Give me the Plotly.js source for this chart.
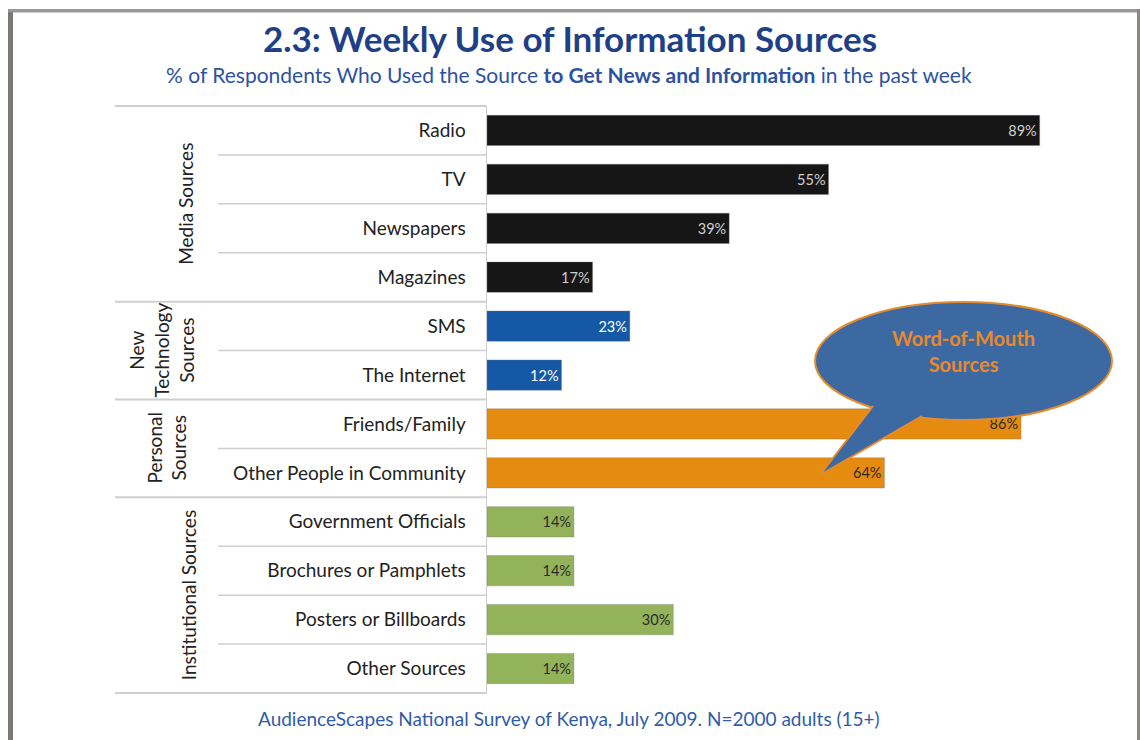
<!DOCTYPE html>
<html>
<head>
<meta charset="utf-8">
<script src="https://cdn.plot.ly/plotly-3.0.1.min.js"></script>
<style>html,body{margin:0;padding:0;background:#fff}#chart{width:1140px;height:740px}</style>
</head>
<body>
<div id="chart"></div>
<script>
// ---- data ----
const categories = ["Radio","TV","Newspapers","Magazines","SMS","The Internet","Friends/Family","Other People in Community","Government Officials","Brochures or Pamphlets","Posters or Billboards","Other Sources"];
const values = [89,55,39,17,23,12,86,64,14,14,30,14];
const groupOf = ["media","media","media","media","tech","tech","personal","personal","inst","inst","inst","inst"];
const groupNames = ["Media Sources","New<br>Technology<br>Sources","Personal<br>Sources","Institutional Sources"];
const groupKeys = ["media","tech","personal","inst"];
const calloutText = "Word-of-Mouth<br>Sources";
const title = "2.3: Weekly Use of Information Sources";
const subtitle = "% of Respondents Who Used the Source <b>to Get News and Information</b> in the past week";
const footer = "AudienceScapes National Survey of Kenya, July 2009. N=2000 adults (15+)";

// ---- styling ----
const barColor = {media:"#161616", tech:"#1458a6", personal:"#e58b0f", inst:"#93b35b"};
const textColor = {media:"#d0d0d0", tech:"#ffffff", personal:"#2a2a2a", inst:"#2a2a2a"};
const FONT = "Lato, 'Open Sans', sans-serif";

const W = 1140, H = 740, L = 487, R = 32, T = 105, B = 46;
const PW = W - L - R, PH = H - T - B;
const px = v => (v - L) / PW;
const py = v => 1 - (v - T) / PH;

const shapes = [];
const annotations = [];

// row separators
const lineCol = "#cfcfcf";
for (let i = 0; i < categories.length - 1; i++) {
  const sameGroup = groupOf[i] === groupOf[i+1];
  shapes.push({type:"line", xref:"paper", yref:"y", x0: px(sameGroup ? 218 : 115), x1: 0, y0: i + 0.5, y1: i + 0.5,
    line:{color: lineCol, width: sameGroup ? 1.5 : 2}, layer:"above"});
}
shapes.push({type:"line", xref:"paper", yref:"y", x0: px(115), x1: 0, y0: -0.5, y1: -0.5, line:{color: lineCol, width: 2}});
shapes.push({type:"line", xref:"paper", yref:"y", x0: px(115), x1: 0, y0: categories.length - 0.5, y1: categories.length - 0.5, line:{color: lineCol, width: 2}});

// group labels
const groupX = {media:186, tech:161, personal:167, inst:188};
groupKeys.forEach((g, k) => {
  const idx = groupOf.map((v,i)=>v===g?i:-1).filter(i=>i>=0);
  const mid = (idx[0] + idx[idx.length-1]) / 2;
  annotations.push({xref:"paper", yref:"y", x: px(groupX[g]), y: mid, text: groupNames[k], textangle:-90,
    showarrow:false, font:{family:FONT, size:19, color:"#222"}, align:"center", xanchor:"center", yanchor:"middle"});
});

// frame
shapes.push({type:"rect", xref:"paper", yref:"paper", x0:px(8), x1:px(13), y0:py(9), y1:py(742), fillcolor:"#7b7775", line:{width:0}});
shapes.push({type:"rect", xref:"paper", yref:"paper", x0:px(8), x1:px(1141), y0:py(9), y1:py(12.5), fillcolor:"#9a9796", line:{width:0}});
shapes.push({type:"rect", xref:"paper", yref:"paper", x0:px(1137), x1:px(1141), y0:py(9), y1:py(742), fillcolor:"#8a8786", line:{width:0}});

// speech bubble
const bubbleFill = "#3d69a3", bubbleLine = "#e58b2d";
shapes.push({type:"circle", xref:"paper", yref:"paper", x0:px(815), x1:px(1112), y0:py(302), y1:py(420),
  fillcolor:bubbleFill, line:{color:bubbleLine, width:2}, layer:"above"});
const tail = [[873,406],[820,475],[922,416],[922,400],[873,396]];
shapes.push({type:"path", xref:"paper", yref:"paper", layer:"above",
  path: "M" + tail.map(p => px(p[0]) + "," + py(p[1])).join(" L") + " Z",
  fillcolor:bubbleFill, line:{width:0}});
shapes.push({type:"path", xref:"paper", yref:"paper", layer:"above",
  path: "M" + px(873) + "," + py(406) + " L" + px(820) + "," + py(475),
  line:{color:bubbleLine, width:2}});
shapes.push({type:"path", xref:"paper", yref:"paper", layer:"above",
  path: "M" + px(820) + "," + py(475) + " L" + px(922) + "," + py(416),
  line:{color:bubbleLine, width:2}});
annotations.push({xref:"paper", yref:"paper", x:px(963), y:py(351), text:"<b>"+calloutText+"</b>", showarrow:false,
  font:{family:FONT, size:20, color:"#e8892b"}, align:"center", xanchor:"center", yanchor:"middle"});

// subtitle & footer
annotations.push({xref:"paper", yref:"paper", x:px(569), y:py(75), text: subtitle, showarrow:false,
  font:{family:FONT, size:21, color:"#2d52a0"}, xanchor:"center", yanchor:"middle"});
annotations.push({xref:"paper", yref:"paper", x:px(569), y:py(718), text: footer, showarrow:false,
  font:{family:FONT, size:19, color:"#2f5caa"}, xanchor:"center", yanchor:"middle"});

const trace = {
  type:"bar", orientation:"h", y: categories, x: values,
  marker:{color: groupOf.map(g => barColor[g]), line:{color:"rgba(120,120,120,0.35)", width:1}},
  width: 0.62,
  text: values.map(v => v + "%"), textposition:"inside", insidetextanchor:"end",
  textfont:{family:FONT, size:14.5, color: groupOf.map(g => textColor[g])},
  constraintext:"none", cliponaxis:false, hoverinfo:"skip"
};

const layout = {
  width: W, height: H,
  margin:{l:L, r:R, t:T, b:B},
  paper_bgcolor:"#ffffff", plot_bgcolor:"#ffffff",
  showlegend:false,
  title:{text:"<b>"+title+"</b>", x:0.5, xref:"container", y:1-40/740, yref:"container", yanchor:"middle", xanchor:"center",
    font:{family:FONT, size:35, color:"#1f3f86"}},
  xaxis:{range:[0,100], visible:false, fixedrange:true},
  yaxis:{type:"category", autorange:"reversed", showline:true, linecolor:"#cfcfcf", linewidth:1.5,
    ticks:"outside", tickson:"boundaries", ticklen:4, tickcolor:"#cfcfcf",
    ticklabelstandoff:16, tickfont:{family:FONT, size:19, color:"#222"}, showgrid:false, zeroline:false, fixedrange:true},
  bargap:0.38,
  shapes: shapes,
  annotations: annotations
};

Plotly.newPlot("chart", [trace], layout, {displayModeBar:false, staticPlot:true});
</script>
</body>
</html>
